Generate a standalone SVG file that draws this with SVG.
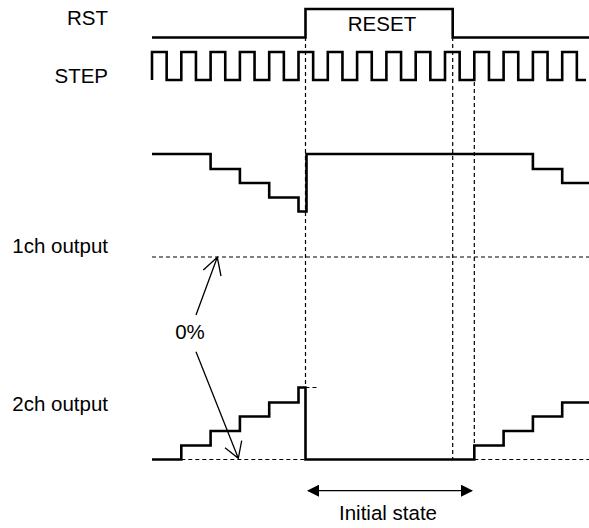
<svg xmlns="http://www.w3.org/2000/svg" width="589" height="528" viewBox="0 0 589 528">
<defs>
<style>
text{font-family:"Liberation Sans",Arial,sans-serif;font-size:20.5px;fill:#000}
.lbl{text-anchor:end}
.mid{text-anchor:middle}
.wave{fill:none;stroke:#000;stroke-width:2.6;stroke-linejoin:miter;stroke-linecap:butt}
.dash{fill:none;stroke:#000;stroke-width:1.2;stroke-dasharray:4 3}
.thin{fill:none;stroke:#000;stroke-width:1.3}
</style>
<marker id="tri" viewBox="0 0 12 12" refX="11" refY="6" markerWidth="12" markerHeight="12" markerUnits="userSpaceOnUse" orient="auto-start-reverse">
<path d="M0,0 L12,6 L0,12 Z" fill="#000"/>
</marker>
</defs>
<rect width="589" height="528" fill="#fff"/>
<g id="rst">
<text class="lbl" x="108" y="25">RST</text>
<path class="wave" d="M152,37.5 H305.5 V9 H452.7 V37.5 H589"/>
<text class="mid" x="382" y="31">RESET</text>
</g>
<g id="step">
<text class="lbl" x="108" y="83">STEP</text>
<path class="wave" d="M152,80 V52 H166.65 V80 H181.3 V52 H195.95 V80 H210.6 V52 H225.25 V80 H239.9 V52 H254.55 V80 H269.2 V52 H283.85 V80 H298.5 V52 H313.15 V80 H327.8 V52 H342.45 V80 H357.1 V52 H371.75 V80 H386.4 V52 H401.05 V80 H415.7 V52 H430.35 V80 H445 V52 H459.65 V80 H474.3 V52 H488.95 V80 H503.6 V52 H518.25 V80 H532.9 V52 H547.55 V80 H562.2 V52 H576.85 V80 H586"/>
</g>
<g id="ch1">
<text class="lbl" x="108" y="253">1ch output</text>
<path class="wave" d="M152,154 H210.6 V169 H239.9 V183 H269.2 V197.5 H298.5 V211.5 H306.5 V154 H532.9 V169 H562.2 V183 H589"/>
</g>
<g id="ch2">
<text class="lbl" x="108" y="411">2ch output</text>
<path class="wave" d="M152,459.5 H181.3 V445.5 H210.6 V431 H239.9 V416.5 H269.2 V402.5 H298.5 V387.5 H305.5 V459.5 H474.3 V445.5 H503.6 V431 H532.9 V416.5 H562.2 V402.5 H589"/>
</g>
<g id="zero">
<text class="mid" x="190" y="339">0%</text>
</g>
<g id="initial">
<text class="mid" x="388" y="520">Initial state</text>
</g>
<g id="connectors">
<path class="dash" d="M152,257 H589"/>
<path class="dash" d="M181.3,459.5 H305.5 M474.3,459.5 H589"/>
<path class="dash" d="M305.5,387.5 H317"/>
<path class="dash" d="M305.5,37 V387.5"/>
<path class="dash" d="M452.7,37 V459.5"/>
<path class="dash" d="M474.3,82 V459.5"/>
<path class="thin" d="M196,315 L217.3,257.3 M203.3,270 L217.3,257.3 L221,276"/>
<path class="thin" d="M196,351.7 L238.3,458.3 M225,447.7 L238.3,458.3 L241.7,440.7"/>
<path class="thin" d="M308,490.7 H472" marker-start="url(#tri)" marker-end="url(#tri)"/>
</g>
</svg>
